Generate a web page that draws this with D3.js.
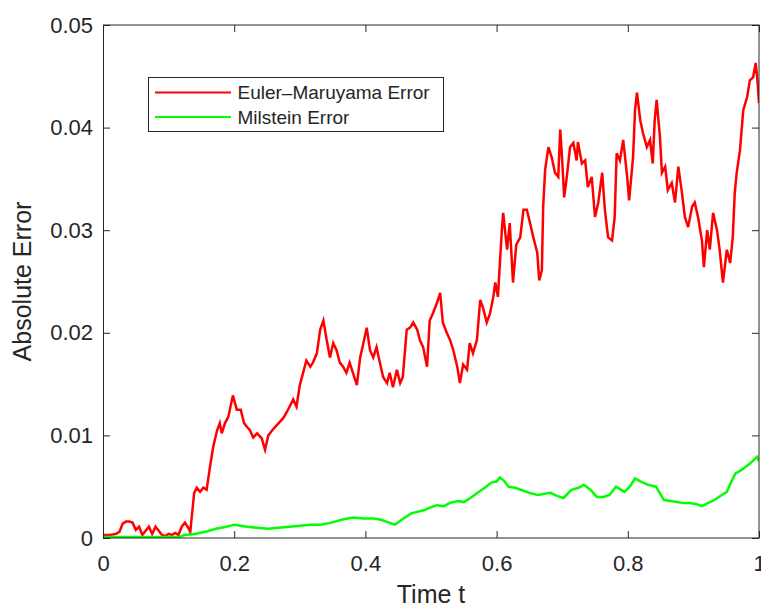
<!DOCTYPE html>
<html>
<head>
<meta charset="utf-8">
<script src="https://cdn.jsdelivr.net/npm/d3@7"></script>
<style>
  body { margin: 0; background: #fff; }
  text { font-family: "Liberation Sans", Arial, sans-serif; fill: #262626; }
</style>
</head>
<body>
<div id="chart"></div>
<script>
// series: [time, absolute error]
var emError = [
  [0, 0.0003], [0.01, 0.0003], [0.02, 0.0004], [0.025, 0.0006], [0.03, 0.0014], [0.035, 0.0016],
  [0.04, 0.0016], [0.045, 0.0015], [0.05, 0.0008], [0.055, 0.0011], [0.06, 0.0003], [0.065, 0.0007],
  [0.07, 0.0011], [0.075, 0.0004], [0.08, 0.0011], [0.085, 0.0007], [0.09, 0.0003], [0.095, 0.0002],
  [0.1, 0.0004], [0.105, 0.0003], [0.11, 0.0005], [0.115, 0.0003], [0.12, 0.0011], [0.125, 0.0015],
  [0.13, 0.001], [0.133, 0.0006], [0.139, 0.0044], [0.143, 0.0049], [0.148, 0.0045], [0.153, 0.0049],
  [0.158, 0.0047], [0.163, 0.0069], [0.168, 0.0089], [0.174, 0.0105], [0.178, 0.0112], [0.181, 0.0102],
  [0.186, 0.0112], [0.191, 0.0118], [0.198, 0.0139], [0.204, 0.0125], [0.21, 0.0125], [0.215, 0.0112],
  [0.22, 0.0108], [0.224, 0.0105], [0.229, 0.0098], [0.235, 0.0102], [0.242, 0.0097], [0.247, 0.0086],
  [0.252, 0.01], [0.258, 0.0105], [0.265, 0.011], [0.275, 0.0117], [0.282, 0.0125], [0.29, 0.0135],
  [0.295, 0.0128], [0.3, 0.0149], [0.305, 0.0161], [0.31, 0.0173], [0.316, 0.0167], [0.32, 0.0171],
  [0.326, 0.018], [0.331, 0.0203], [0.336, 0.0212], [0.341, 0.0193], [0.346, 0.0176], [0.351, 0.019],
  [0.356, 0.0183], [0.361, 0.0171], [0.366, 0.0167], [0.371, 0.0161], [0.376, 0.0171], [0.381, 0.0161],
  [0.387, 0.0149], [0.392, 0.0176], [0.397, 0.019], [0.402, 0.0205], [0.407, 0.0183], [0.412, 0.0176],
  [0.417, 0.0186], [0.422, 0.0171], [0.427, 0.0157], [0.433, 0.0151], [0.437, 0.0161], [0.442, 0.0147],
  [0.448, 0.0164], [0.453, 0.0151], [0.457, 0.0157], [0.463, 0.0203], [0.468, 0.0205], [0.473, 0.021],
  [0.479, 0.0203], [0.483, 0.0193], [0.488, 0.0186], [0.494, 0.0167], [0.498, 0.0212], [0.503, 0.0219],
  [0.509, 0.0229], [0.514, 0.0239], [0.518, 0.021], [0.524, 0.02], [0.529, 0.0193], [0.534, 0.0183],
  [0.54, 0.0167], [0.544, 0.0151], [0.549, 0.0169], [0.555, 0.0164], [0.559, 0.019], [0.564, 0.018],
  [0.57, 0.0193], [0.575, 0.0232], [0.579, 0.0225], [0.585, 0.021], [0.59, 0.0219], [0.595, 0.0235],
  [0.598, 0.0249], [0.602, 0.0235], [0.608, 0.03], [0.61, 0.0317], [0.616, 0.0281], [0.62, 0.0307],
  [0.625, 0.0249], [0.63, 0.0286], [0.636, 0.0293], [0.641, 0.032], [0.646, 0.032], [0.651, 0.0307],
  [0.656, 0.0293], [0.662, 0.0278], [0.665, 0.0251], [0.669, 0.0261], [0.671, 0.0323], [0.674, 0.0359],
  [0.679, 0.0381], [0.684, 0.0371], [0.689, 0.0356], [0.694, 0.0352], [0.697, 0.0398], [0.7, 0.0368],
  [0.703, 0.0332], [0.707, 0.0352], [0.712, 0.0381], [0.717, 0.0385], [0.722, 0.0368], [0.724, 0.0386],
  [0.73, 0.0365], [0.735, 0.0368], [0.739, 0.0342], [0.745, 0.0352], [0.75, 0.0313], [0.755, 0.0327],
  [0.761, 0.0356], [0.765, 0.032], [0.77, 0.0293], [0.776, 0.029], [0.78, 0.0313], [0.783, 0.0375],
  [0.788, 0.0368], [0.793, 0.0388], [0.799, 0.0352], [0.802, 0.0329], [0.808, 0.0371], [0.811, 0.0417],
  [0.814, 0.0434], [0.819, 0.0407], [0.823, 0.0395], [0.829, 0.0381], [0.834, 0.0388], [0.838, 0.0365],
  [0.841, 0.0407], [0.844, 0.0427], [0.849, 0.0391], [0.852, 0.0356], [0.857, 0.0362], [0.861, 0.0339],
  [0.867, 0.0346], [0.872, 0.0327], [0.877, 0.0362], [0.882, 0.0339], [0.887, 0.0313], [0.892, 0.0303],
  [0.898, 0.0323], [0.902, 0.0327], [0.907, 0.0313], [0.913, 0.029], [0.916, 0.0264], [0.921, 0.03],
  [0.925, 0.0281], [0.93, 0.0317], [0.936, 0.03], [0.94, 0.0281], [0.945, 0.0249], [0.951, 0.0281],
  [0.956, 0.0268], [0.96, 0.0293], [0.963, 0.0336], [0.966, 0.0356], [0.971, 0.0378], [0.976, 0.0417],
  [0.982, 0.043], [0.986, 0.0446], [0.991, 0.0449], [0.995, 0.0463], [0.998, 0.0443], [1.0, 0.0424]
];

var milError = [
  [0, 0.0001], [0.05, 0.0001], [0.117, 0.0001], [0.124, 0.0003], [0.14, 0.0004], [0.156, 0.0006],
  [0.172, 0.0009], [0.188, 0.0011], [0.2, 0.0013], [0.21, 0.0012], [0.22, 0.0011], [0.235, 0.001],
  [0.252, 0.0009], [0.268, 0.001], [0.284, 0.0011], [0.3, 0.0012], [0.316, 0.0013], [0.332, 0.0013],
  [0.348, 0.0015], [0.365, 0.0018], [0.381, 0.002], [0.397, 0.0019], [0.413, 0.0019], [0.422, 0.0018],
  [0.432, 0.0016], [0.445, 0.0013], [0.458, 0.0019], [0.47, 0.0024], [0.489, 0.0027], [0.5, 0.003],
  [0.509, 0.0032], [0.52, 0.0031], [0.528, 0.0034], [0.541, 0.0036], [0.55, 0.0035], [0.56, 0.0039],
  [0.573, 0.0045], [0.582, 0.0049], [0.592, 0.0054], [0.6, 0.0055], [0.605, 0.0059], [0.611, 0.0056],
  [0.618, 0.005], [0.628, 0.0049], [0.637, 0.0047], [0.65, 0.0044], [0.663, 0.0042], [0.672, 0.0043],
  [0.682, 0.0044], [0.692, 0.0041], [0.702, 0.0039], [0.714, 0.0047], [0.725, 0.0049], [0.733, 0.0052],
  [0.743, 0.0047], [0.753, 0.004], [0.763, 0.004], [0.772, 0.0042], [0.782, 0.005], [0.795, 0.0045],
  [0.803, 0.005], [0.811, 0.0058], [0.82, 0.0055], [0.83, 0.0052], [0.843, 0.005], [0.855, 0.0037],
  [0.865, 0.0036], [0.875, 0.0035], [0.885, 0.0034], [0.894, 0.0034], [0.905, 0.0033], [0.913, 0.0031],
  [0.922, 0.0034], [0.932, 0.0037], [0.941, 0.0041], [0.951, 0.0045], [0.958, 0.0055], [0.964, 0.0063],
  [0.97, 0.0065], [0.977, 0.0068], [0.987, 0.0073], [0.997, 0.0079], [1.0, 0.0075]
];

var xTicks = [0, 0.2, 0.4, 0.6, 0.8, 1];
var yTicks = [0, 0.01, 0.02, 0.03, 0.04, 0.05];
var seriesNames = ["Euler\u2013Maruyama Error", "Milstein Error"];
var seriesColors = ["#ff0000", "#00ff00"];

// dimensions
var W = 761, H = 607;
var margin = {top: 25, right: 2, bottom: 69, left: 103},
    width = W - margin.left - margin.right,
    height = H - margin.top - margin.bottom;

var svg = d3.select("#chart")
  .append("svg")
  .attr("width", W)
  .attr("height", H)
  .append("g")
  .attr("transform", "translate(" + margin.left + "," + margin.top + ")");

var x = d3.scaleLinear().domain([0, 1]).range([0, width]);
var y = d3.scaleLinear().domain([0, 0.05]).range([height, 0]);

var fmt = function(d) { return d === 0 ? "0" : String(+d.toFixed(2)); };

// clip for the data lines
svg.append("defs").append("clipPath")
  .attr("id", "clip")
  .append("rect")
  .attr("width", width)
  .attr("height", height);

var line = d3.line()
  .x(function(d) { return x(d[0]); })
  .y(function(d) { return y(d[1]); });

var plot = svg.append("g").attr("clip-path", "url(#clip)");

plot.append("path")
  .datum(emError)
  .attr("fill", "none")
  .attr("stroke", seriesColors[0])
  .attr("stroke-width", 2.5)
  .attr("d", line);

plot.append("path")
  .datum(milError)
  .attr("fill", "none")
  .attr("stroke", seriesColors[1])
  .attr("stroke-width", 2.5)
  .attr("d", line);

// axes (ticks inside, on all four sides)
svg.append("g")
  .attr("transform", "translate(0," + height + ")")
  .call(d3.axisBottom(x).tickValues(xTicks).tickSize(-7).tickPadding(17).tickFormat(fmt));

svg.append("g")
  .call(d3.axisLeft(y).tickValues(yTicks).tickSize(-7).tickPadding(10).tickFormat(fmt));

svg.append("g")
  .call(d3.axisTop(x).tickValues(xTicks).tickSize(-7).tickFormat(""));

svg.append("g")
  .attr("transform", "translate(" + width + ",0)")
  .call(d3.axisRight(y).tickValues(yTicks).tickSize(-7).tickFormat(""));

svg.selectAll(".domain").remove();
svg.selectAll(".tick line").attr("stroke", "#262626").attr("stroke-width", 1);
svg.selectAll(".tick text")
  .style("font-family", "'Liberation Sans', Arial, sans-serif")
  .style("font-size", "22px")
  .attr("fill", "#262626");

svg.append("rect")
  .attr("x", 0.5).attr("y", 0)
  .attr("width", width - 0.5).attr("height", height)
  .attr("fill", "none")
  .attr("stroke", "#262626")
  .attr("stroke-width", 1);

// axis labels
svg.append("text")
  .attr("x", width / 2)
  .attr("y", height + 65)
  .attr("text-anchor", "middle")
  .style("font-size", "25px")
  .text("Time t");

svg.append("text")
  .attr("transform", "translate(" + (-72) + "," + (height / 2) + ") rotate(-90)")
  .attr("text-anchor", "middle")
  .style("font-size", "25px")
  .text("Absolute Error");

// legend
var legend = svg.append("g").attr("transform", "translate(45,52)");

legend.append("rect")
  .attr("x", 0.5).attr("y", 0.5)
  .attr("width", 295).attr("height", 54)
  .attr("fill", "#fff")
  .attr("stroke", "#262626")
  .attr("stroke-width", 1);

seriesNames.forEach(function(name, i) {
  var ly = 15.5 + i * 24.5;
  legend.append("line")
    .attr("x1", 7).attr("x2", 83)
    .attr("y1", ly).attr("y2", ly)
    .attr("stroke", seriesColors[i])
    .attr("stroke-width", 2.2);
  legend.append("text")
    .attr("x", 89.5)
    .attr("y", ly)
    .attr("dy", "0.35em")
    .style("font-size", "19px")
    .text(name);
});
</script>
</body>
</html>
